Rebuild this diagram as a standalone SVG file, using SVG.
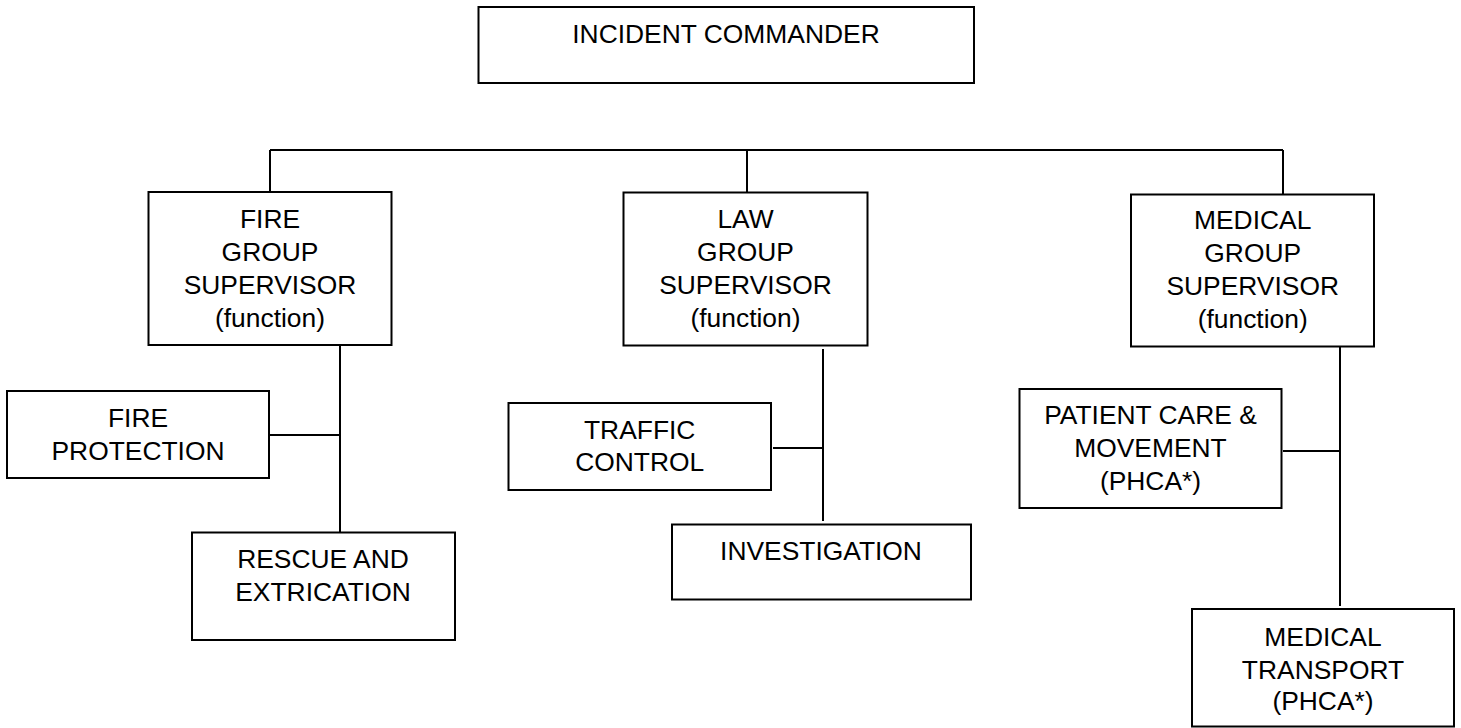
<svg xmlns="http://www.w3.org/2000/svg" width="1461" height="728" viewBox="0 0 1461 728">
<style>
.box{fill:#fff;stroke:#000;stroke-width:2}
.ln{stroke:#000;stroke-width:2;fill:none}
text{font-family:"Liberation Sans",Arial,sans-serif;font-size:26.4px;fill:#000;text-anchor:middle}
</style>
<rect width="1461" height="728" fill="#fff"/>
<g id="connectors">
<path class="ln" d="M270 150H1283M270 150V192M747 150V192M1283 150V194"/>
<path class="ln" d="M340 346V532M270 435H340"/>
<path class="ln" d="M823 349V521M773 448H823"/>
<path class="ln" d="M1340 347V606M1283 451H1340"/>
</g>
<g id="incident-commander">
<rect class="box" x="478.5" y="7" width="495.5" height="76"/>
<text x="726" y="43">INCIDENT COMMANDER</text>
</g>
<g id="fire-group">
<rect class="box" x="148.5" y="192" width="243" height="153"/>
<text x="270" y="228">FIRE</text>
<text x="270" y="261">GROUP</text>
<text x="270" y="294">SUPERVISOR</text>
<text x="270" y="327">(function)</text>
</g>
<g id="fire-protection">
<rect class="box" x="7" y="391" width="262" height="87"/>
<text x="138" y="427">FIRE</text>
<text x="138" y="460">PROTECTION</text>
</g>
<g id="rescue">
<rect class="box" x="192" y="532.5" width="263" height="107.5"/>
<text x="323" y="568">RESCUE AND</text>
<text x="323" y="601">EXTRICATION</text>
</g>
<g id="law-group">
<rect class="box" x="623.5" y="192.5" width="244" height="153"/>
<text x="745.5" y="228">LAW</text>
<text x="745.5" y="261">GROUP</text>
<text x="745.5" y="294">SUPERVISOR</text>
<text x="745.5" y="327">(function)</text>
</g>
<g id="traffic-control">
<rect class="box" x="508.5" y="403" width="262.5" height="87"/>
<text x="639.7" y="438.5">TRAFFIC</text>
<text x="639.7" y="471">CONTROL</text>
</g>
<g id="investigation">
<rect class="box" x="672" y="524.5" width="299" height="75"/>
<text x="821" y="560">INVESTIGATION</text>
</g>
<g id="medical-group">
<rect class="box" x="1131" y="194.5" width="243" height="152"/>
<text x="1252.7" y="229">MEDICAL</text>
<text x="1252.7" y="262">GROUP</text>
<text x="1252.7" y="295">SUPERVISOR</text>
<text x="1252.7" y="328">(function)</text>
</g>
<g id="patient-care">
<rect class="box" x="1019.5" y="389" width="262" height="119"/>
<text x="1150.5" y="423.5">PATIENT CARE &amp;</text>
<text x="1150.5" y="456.5">MOVEMENT</text>
<text x="1150.5" y="489.5">(PHCA*)</text>
</g>
<g id="medical-transport">
<rect class="box" x="1192" y="609" width="262" height="117.5"/>
<text x="1323" y="646">MEDICAL</text>
<text x="1323" y="678.5">TRANSPORT</text>
<text x="1323" y="710">(PHCA*)</text>
</g>
</svg>
